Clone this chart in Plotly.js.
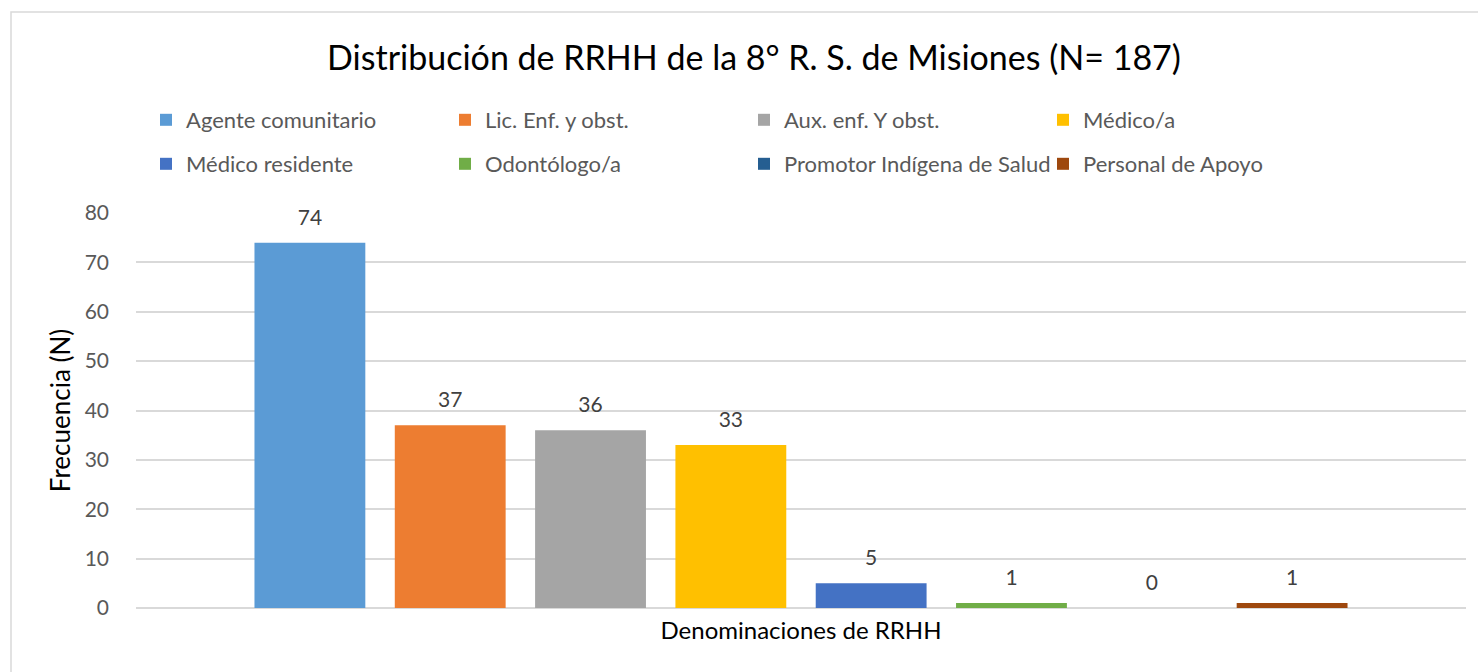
<!DOCTYPE html>
<html>
<head>
<meta charset="utf-8">
<script src="https://cdn.plot.ly/plotly-3.0.1.min.js"></script>
<style>
html,body{margin:0;padding:0;background:#fff;}
#chart{width:1478px;height:672px;}
</style>
</head>
<body>
<div id="chart"></div>
<script>
const seriesNames = ["Agente comunitario","Lic. Enf. y obst.","Aux. enf. Y obst.","Médico/a","Médico residente","Odontólogo/a","Promotor Indígena de Salud","Personal de Apoyo"];
const seriesValues = [74, 37, 36, 33, 5, 1, 0, 1];
const seriesColors = ["#5B9BD5","#ED7D31","#A5A5A5","#FFC000","#4472C4","#70AD47","#255E91","#9E480E"];
const category = ["Denominaciones de RRHH"];
const chartTitle = "Distribución de RRHH de la 8° R. S. de Misiones (N= 187)";
const yTitle = "Frecuencia (N)";
const xTitle = "Denominaciones de RRHH";

const FONT = "Lato, 'Open Sans', sans-serif";
const L = 136, R = 1466, T = 213, B = 608, W = 1478, H = 672;
const pw = R - L, ph = B - T;
const px = x => (x - L) / pw;
const py = y => (B - y) / ph;

const bars = seriesNames.map((name, i) => ({
  type: 'bar',
  name: name,
  x: category,
  y: [seriesValues[i]],
  marker: {color: seriesColors[i]},
  legend: i < 4 ? 'legend' : 'legend2',
  hoverinfo: 'name+y'
}));

const labels = seriesNames.map((name, i) => ({
  type: 'scatter',
  mode: 'markers+text',
  name: name,
  x: category,
  y: [seriesValues[i]],
  text: [String(seriesValues[i])],
  textposition: 'top center',
  textfont: {family: FONT, size: 21, color: '#404040'},
  marker: {size: 19, opacity: 0, color: seriesColors[i]},
  cliponaxis: false,
  showlegend: false,
  hoverinfo: 'skip'
}));

const legendCommon = {
  orientation: 'h',
  xanchor: 'left',
  yanchor: 'middle',
  entrywidth: 254,
  entrywidthmode: 'pixels',
  font: {family: FONT, size: 22, color: '#595959'},
  bgcolor: 'rgba(0,0,0,0)',
  borderwidth: 0,
  traceorder: 'normal'
};

const layout = {
  width: W, height: H,
  margin: {l: L, r: W - R, t: T, b: H - B, pad: 0},
  paper_bgcolor: '#fff',
  plot_bgcolor: '#fff',
  font: {family: FONT, color: '#595959'},
  title: {
    text: chartTitle,
    font: {family: FONT, size: 34, color: '#000000'},
    xref: 'paper', x: (754 - L) / pw, xanchor: 'center',
    yref: 'container', y: 1 - 58 / H, yanchor: 'middle'
  },
  barmode: 'group',
  bargap: 0.156,
  bargroupgap: 0.21,
  scattermode: 'group',
  scattergap: 0.156,
  showlegend: true,
  legend: Object.assign({}, legendCommon, {x: px(146), y: py(120)}),
  legend2: Object.assign({}, legendCommon, {x: px(146), y: py(164)}),
  xaxis: {
    type: 'category',
    showticklabels: false,
    showgrid: false,
    zeroline: false,
    showline: false,
    ticks: '',
    title: {text: xTitle, font: {family: FONT, size: 24, color: '#000000'}, standoff: 14}
  },
  yaxis: {
    range: [0, 80],
    dtick: 10,
    tick0: 0,
    showgrid: true,
    gridcolor: '#d9d9d9',
    gridwidth: 1.5,
    zeroline: true,
    zerolinecolor: '#d9d9d9',
    zerolinewidth: 1.5,
    showline: false,
    ticks: '',
    ticklabelstandoff: 26,
    tickfont: {family: FONT, size: 21, color: '#595959'},
    title: {text: yTitle, font: {family: FONT, size: 26, color: '#000000'}, standoff: 6}
  },
  shapes: [{
    type: 'rect', xref: 'paper', yref: 'paper',
    x0: px(11), x1: px(1500), y0: py(700), y1: py(12),
    line: {color: '#d9d9d9', width: 1.5},
    fillcolor: 'rgba(0,0,0,0)',
    layer: 'below'
  }]
};

Plotly.newPlot('chart', bars.concat(labels), layout, {displayModeBar: false, responsive: false});
</script>
</body>
</html>
